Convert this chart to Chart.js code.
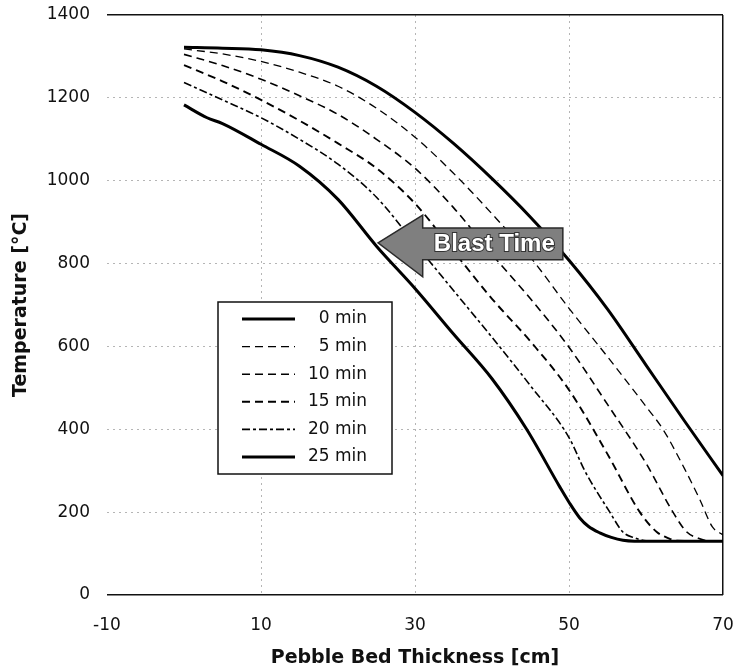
<!DOCTYPE html>
<html>
<head>
<meta charset="utf-8">
<script src="https://cdn.jsdelivr.net/npm/chart.js@4.4.0/dist/chart.umd.min.js"></script>
<style>
  html, body { margin: 0; padding: 0; background: #fff; }
</style>
</head>
<body>
<canvas id="lineChart" width="737" height="671"></canvas>
<script>
// values (thickness in cm, temperature in degC)
const seriesLabels = ["0 min", "5 min", "10 min", "15 min", "20 min", "25 min"];

const depth0 = [0, 5, 10, 15, 20, 25, 30, 35, 40, 45, 50, 55, 60, 65, 70];
const temp0 = [1322, 1320, 1316, 1302, 1274, 1228, 1165, 1090, 1005, 912, 808, 690, 555, 420, 288];

const depth5 = [0, 5, 10, 15, 20, 25, 30, 35, 40, 45, 50, 55, 60, 62.2, 65, 67, 68.6, 70];
const temp5 = [1318, 1306, 1288, 1262, 1228, 1175, 1105, 1018, 920, 815, 692, 575, 455, 400, 305, 230, 165, 145];

const depth10 = [0, 5, 10, 15, 20, 25, 30, 35, 40, 45, 50, 55, 60, 63.5, 65.3, 66.8, 68, 70];
const temp10 = [1305, 1278, 1245, 1205, 1160, 1100, 1030, 935, 822, 715, 598, 460, 318, 200, 152, 137, 131, 130];

const depth15 = [0, 5, 10, 15, 20, 25, 30, 35, 40, 45, 50, 55, 59.2, 61.4, 62.8, 64, 70];
const temp15 = [1279, 1240, 1195, 1145, 1090, 1030, 945, 830, 715, 612, 495, 340, 200, 152, 138, 131, 130];

const depth20 = [0, 5, 10, 15, 20, 25, 30, 35, 40, 45, 50, 52.1, 55.3, 57, 58.5, 60, 70];
const temp20 = [1237, 1195, 1152, 1100, 1040, 960, 848, 735, 622, 505, 380, 298, 200, 152, 138, 131, 130];

const depth25 = [0, 3, 5, 10, 15, 20, 25, 30, 35, 40, 44.5, 48.8, 50, 51.4, 52.5, 54, 55.5, 57, 58.5, 70];
const temp25 = [1183, 1152, 1138, 1088, 1035, 955, 842, 740, 630, 522, 400, 261, 224, 186, 166, 150, 139, 132, 130, 130];

const xTicks = [-10, 10, 30, 50, 70];
const yTicks = [0, 200, 400, 600, 800, 1000, 1200, 1400];

const FONT = "'DejaVu Sans', sans-serif";

function pts(xs, ys) {
  return xs.map((v, i) => ({ x: v, y: ys[i] }));
}

const styles = [
  { w: 3, dash: [] },
  { w: 1.3, dash: [8, 5] },
  { w: 1.6, dash: [8, 5] },
  { w: 1.9, dash: [8, 5] },
  { w: 1.6, dash: [8, 3, 3, 3] },
  { w: 3, dash: [] }
];
const allData = [
  pts(depth0, temp0), pts(depth5, temp5), pts(depth10, temp10),
  pts(depth15, temp15), pts(depth20, temp20), pts(depth25, temp25)
];

// "Blast Time" arrow, placed in data units
const arrow = { tip: [25.2, 850], headX: 31, headTop: 917, headBot: 768, endX: 49.2, bodyTop: 886, bodyBot: 809, textX: 40.3, textY: 846 };

const blastArrow = {
  id: 'blastArrow',
  afterDatasetsDraw(chart) {
    const { ctx, scales: { x, y } } = chart;
    const px = v => x.getPixelForValue(v), py = v => y.getPixelForValue(v);
    ctx.save();
    ctx.beginPath();
    ctx.moveTo(px(arrow.tip[0]), py(arrow.tip[1]));
    ctx.lineTo(px(arrow.headX), py(arrow.headTop));
    ctx.lineTo(px(arrow.headX), py(arrow.bodyTop));
    ctx.lineTo(px(arrow.endX), py(arrow.bodyTop));
    ctx.lineTo(px(arrow.endX), py(arrow.bodyBot));
    ctx.lineTo(px(arrow.headX), py(arrow.bodyBot));
    ctx.lineTo(px(arrow.headX), py(arrow.headBot));
    ctx.closePath();
    ctx.fillStyle = '#7f7f7f';
    ctx.fill();
    ctx.lineWidth = 1.5;
    ctx.strokeStyle = '#2a2a2a';
    ctx.stroke();
    ctx.font = "bold 24px 'Liberation Sans', Arial, sans-serif";
    ctx.textAlign = 'center';
    ctx.textBaseline = 'middle';
    ctx.lineWidth = 2;
    ctx.strokeStyle = '#333';
    ctx.strokeText('Blast Time', px(arrow.textX), py(arrow.textY));
    ctx.fillStyle = '#fff';
    ctx.fillText('Blast Time', px(arrow.textX), py(arrow.textY));
    ctx.restore();
  }
};

const boxLegend = {
  id: 'boxLegend',
  afterDatasetsDraw(chart) {
    const { ctx, chartArea: a } = chart;
    const left = a.left + 111, top = a.top + 287, w = 174, h = 172;
    ctx.save();
    ctx.fillStyle = '#fff';
    ctx.fillRect(left, top, w, h);
    ctx.lineWidth = 1.5;
    ctx.strokeStyle = '#111';
    ctx.strokeRect(left, top, w, h);
    ctx.font = '17px ' + FONT;
    ctx.textAlign = 'right';
    ctx.textBaseline = 'middle';
    chart.data.datasets.forEach((ds, i) => {
      const cy = top + 17 + i * 27.6;
      ctx.beginPath();
      ctx.setLineDash(ds.borderDash || []);
      ctx.lineWidth = ds.borderWidth;
      ctx.strokeStyle = ds.borderColor;
      ctx.moveTo(left + 24, cy);
      ctx.lineTo(left + 77, cy);
      ctx.stroke();
      ctx.setLineDash([]);
      ctx.fillStyle = '#111';
      ctx.fillText(ds.label, left + 149, cy);
    });
    ctx.restore();
  }
};

new Chart(document.getElementById("lineChart"), {
  type: 'line',
  data: {
    datasets: seriesLabels.map((lab, i) => ({
      label: lab,
      data: allData[i],
      borderColor: '#000',
      borderWidth: styles[i].w,
      borderDash: styles[i].dash,
      pointRadius: 0,
      fill: false,
      cubicInterpolationMode: 'monotone'
    }))
  },
  options: {
    responsive: false,
    animation: false,
    layout: { padding: { left: 0, right: 14, top: 15, bottom: 0 } },
    plugins: { legend: { display: false }, tooltip: { enabled: false } },
    scales: {
      x: {
        type: 'linear',
        min: xTicks[0],
        max: xTicks[xTicks.length - 1],
        afterBuildTicks: s => { s.ticks = xTicks.map(v => ({ value: v })); },
        afterFit: s => { s.height = 76; s.paddingLeft = 0; s.paddingRight = 0; },
        ticks: {
          padding: 20,
          color: '#111',
          font: { family: FONT, size: 17 },
          callback: v => String(v)
        },
        grid: {
          drawTicks: false,
          color: c => c.tick && c.tick.value === -10 ? 'rgba(0,0,0,0)' : (c.tick && c.tick.value === 70 ? '#111' : '#b5b5b5'),
          lineWidth: c => c.tick && c.tick.value === 70 ? 1.5 : 1
        },
        border: {
          display: false,
          dash: c => c.tick && c.tick.value !== 70 ? [2, 4] : []
        },
        title: {
          display: true,
          text: 'Pebble Bed Thickness [cm]',
          color: '#111',
          font: { family: FONT, size: 19, weight: 'bold' },
          padding: { top: 0, bottom: 2 }
        }
      },
      y: {
        min: yTicks[0],
        max: yTicks[yTicks.length - 1],
        afterBuildTicks: s => { s.ticks = yTicks.map(v => ({ value: v })); },
        afterFit: s => { s.width = 107; s.paddingTop = 0; s.paddingBottom = 0; },
        ticks: {
          padding: 17,
          color: '#111',
          font: { family: FONT, size: 17 },
          callback: v => String(v)
        },
        grid: {
          drawTicks: false,
          color: c => c.tick && (c.tick.value === 0 || c.tick.value === 1400) ? '#111' : '#b5b5b5',
          lineWidth: c => c.tick && (c.tick.value === 0 || c.tick.value === 1400) ? 1.5 : 1
        },
        border: {
          display: false,
          dash: c => c.tick && c.tick.value !== 0 && c.tick.value !== 1400 ? [2, 4] : []
        },
        title: {
          display: true,
          text: 'Temperature [°C]',
          color: '#111',
          font: { family: FONT, size: 19, weight: 'bold' },
          padding: { top: 10, bottom: 0 }
        }
      }
    }
  },
  plugins: [blastArrow, boxLegend]
});
</script>
</body>
</html>
